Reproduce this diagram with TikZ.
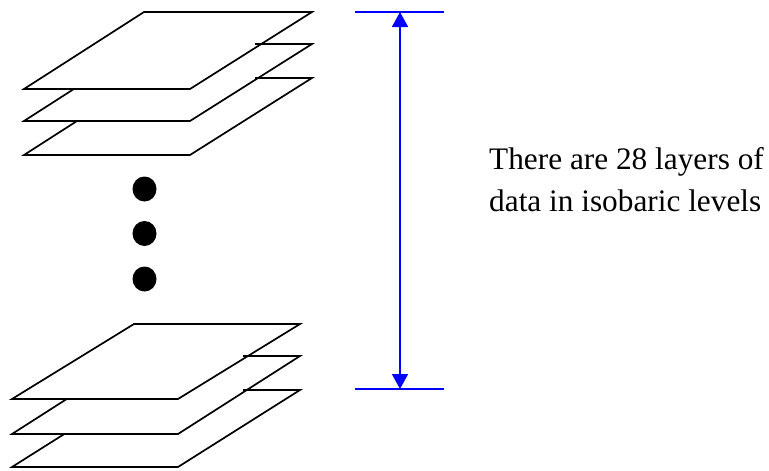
\documentclass[tikz,border=0pt]{standalone}
\usepackage{fontspec}
\setmainfont{Liberation Serif}
\usetikzlibrary{arrows.meta}
\tikzset{
  layer/.style={draw=black, fill=white, line width=1.7pt, line join=miter},
  stub/.style={draw=black, line width=1.7pt},
  dot/.style={fill=black},
  bluerule/.style={draw=blue, line width=1.7pt},
  span/.style={draw=blue, line width=1.7pt, {Triangle[width=16pt,length=15pt]}-{Triangle[width=16pt,length=15pt]}},
  label/.style={font=\fontsize{31.3}{41.5}\selectfont, align=left, inner sep=0pt}
}
\begin{document}
\begin{tikzpicture}[x=1pt,y=-1pt]
\useasboundingbox (0,0) rectangle (769,471);
% top stack (bottom layer first)
\path[layer] (24,155) -- (190,155) -- (312,78) -- (144,78) -- cycle;
\path[layer] (24,121) -- (190,121) -- (312,44) -- (144,44) -- cycle;
\path[layer] (24,89) -- (190,89) -- (312,12) -- (144,12) -- cycle;
\path[stub] (255,44) -- (312,44);
\path[stub] (255,78) -- (312,78);
% dots
\fill[dot] (144.5,189) ellipse [x radius=12, y radius=12.5];
\fill[dot] (144.5,233.5) ellipse [x radius=12, y radius=12.5];
\fill[dot] (144.5,279) ellipse [x radius=12, y radius=12.5];
% bottom stack
\path[layer] (12,467) -- (178,467) -- (300,390) -- (134,390) -- cycle;
\path[layer] (12,434) -- (178,434) -- (300,356) -- (134,356) -- cycle;
\path[layer] (12,399) -- (178,399) -- (300,324) -- (134,324) -- cycle;
\path[stub] (243,356) -- (300,356);
\path[stub] (243,390) -- (300,390);
% dimension
\coordinate (topL) at (355,12);
\coordinate (topR) at (444,12);
\coordinate (botL) at (355,389);
\coordinate (botR) at (444,389);
\coordinate (topM) at (400,12);
\coordinate (botM) at (400,389);
\path[bluerule] (topL) -- (topR);
\path[bluerule] (botL) -- (botR);
\path[span] (topM) -- (botM);
\node[label, anchor=base west] (txt) at (489,211) {There are 28 layers of\\data in isobaric levels};
\end{tikzpicture}
\end{document}
